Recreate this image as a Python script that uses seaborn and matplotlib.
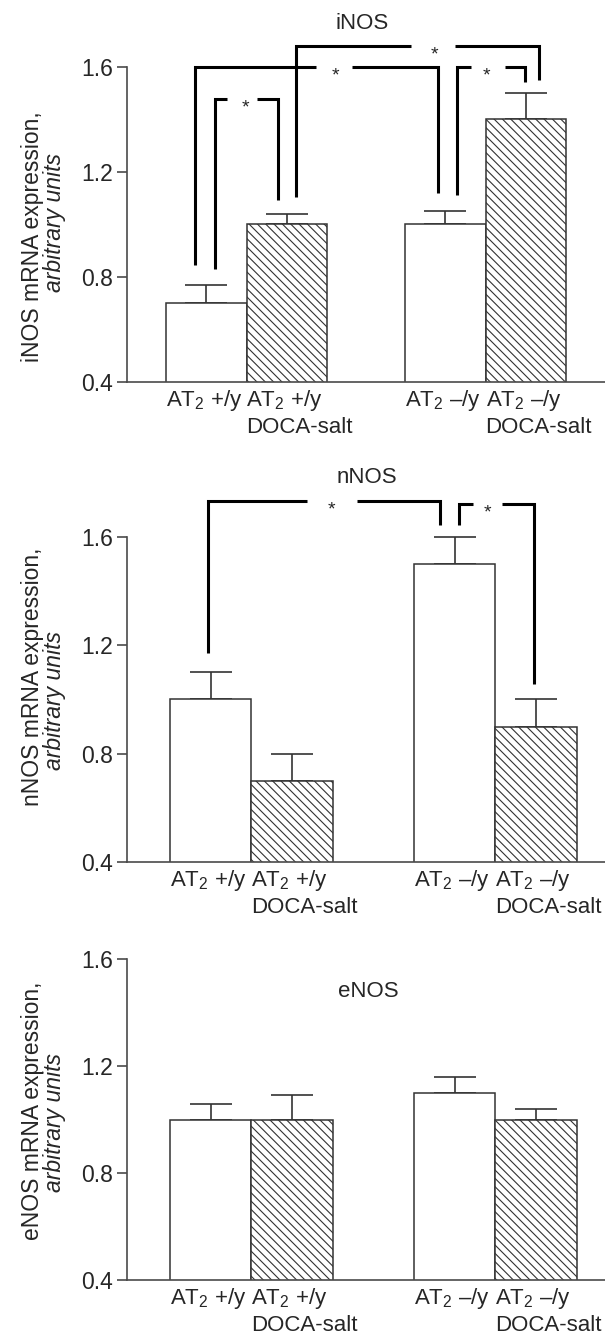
import numpy as np
import pandas as pd
import matplotlib
matplotlib.use("Agg")
import matplotlib.pyplot as plt
import seaborn as sns

# ---- data -------------------------------------------------------------
genotypes = ["AT$_2$ +/y", "AT$_2$ \u2013/y"]
treatments = ["Control", "DOCA-salt"]
bar_labels = ["AT$_2$ +/y", "AT$_2$ +/y", "AT$_2$ \u2013/y", "AT$_2$ \u2013/y"]
bar_sublabels = ["", "DOCA-salt", "", "DOCA-salt"]
y_ticks = [0.4, 0.8, 1.2, 1.6]

# bar order: (+/y, control), (+/y, DOCA), (-/y, control), (-/y, DOCA)
inos_mean = [0.70, 1.00, 1.00, 1.40]
inos_sem = [0.07, 0.04, 0.05, 0.10]
nnos_mean = [1.00, 0.70, 1.50, 0.90]
nnos_sem = [0.10, 0.10, 0.10, 0.10]
enos_mean = [1.00, 1.00, 1.10, 1.00]
enos_sem = [0.06, 0.09, 0.06, 0.04]

# significance brackets: bar a, bar b, bracket level, leg offsets,
# leg end levels, star x, gap around star
inos_brackets = [
    dict(a=0, b=2, y=1.600, da=-0.05, db=-0.03, ea=0.846, eb=1.118, star=0.372, gap=(0.292, 0.440)),
    dict(a=1, b=3, y=1.680, da=0.04, db=0.057, ea=1.103, eb=1.549, star=0.788, gap=(0.690, 0.873)),
    dict(a=0, b=1, y=1.477, da=0.035, db=-0.035, ea=0.830, eb=1.093, star=-0.006, gap=(-0.083, 0.046)),
    dict(a=2, b=3, y=1.600, da=0.05, db=-0.004, ea=1.112, eb=1.543, star=1.002, gap=(0.941, 1.083)),
]
nnos_brackets = [
    dict(a=0, b=2, y=1.732, da=-0.01, db=-0.06, ea=1.172, eb=1.643, star=0.329, gap=(0.229, 0.431)),
    dict(a=2, b=3, y=1.721, da=0.02, db=-0.01, ea=1.643, eb=1.059, star=0.969, gap=(0.906, 1.028)),
]

# ---- style ------------------------------------------------------------
sns.set_style("ticks")
plt.rcParams["font.family"] = ["Liberation Sans", "DejaVu Sans"]
plt.rcParams["mathtext.fontset"] = "custom"
plt.rcParams["mathtext.rm"] = "Liberation Sans"
plt.rcParams["mathtext.it"] = "Liberation Sans:italic"
plt.rcParams["hatch.linewidth"] = 0.8
plt.rcParams["hatch.color"] = "#3a3a3a"

FS = 16
EDGE = "#333333"
SPINE = "#4a4a4a"

W, H = 605, 1338
fig = plt.figure(figsize=(W / 100, H / 100), dpi=100)
fig.patch.set_facecolor("white")


def rect(left_px, top_px, right_px, bottom_px):
    return [left_px / W, 1 - bottom_px / H, (right_px - left_px) / W, (bottom_px - top_px) / H]


def panel(axrect, ylim, xlim, means, sems, title, title_xy, gene, brackets,
          ylab_y, ylab2_y):
    ax = fig.add_axes(axrect)
    df = pd.DataFrame({
        "genotype": [genotypes[0], genotypes[0], genotypes[1], genotypes[1]],
        "treatment": [treatments[0], treatments[1], treatments[0], treatments[1]],
        "value": means,
    })
    sns.barplot(data=df, x="genotype", y="value", hue="treatment",
                order=genotypes, hue_order=treatments,
                palette=["white", "white"], width=0.67, errorbar=None,
                edgecolor=EDGE, linewidth=1.1, legend=False, ax=ax)
    for p in ax.containers[1]:
        p.set_hatch("\\\\\\\\")

    bars = sorted(ax.patches, key=lambda p: p.get_x())
    centers = np.array([p.get_x() + p.get_width() / 2 for p in bars])
    heights = np.array([p.get_height() for p in bars])

    # upper error bars only
    ax.errorbar(centers, heights, yerr=[np.zeros(len(sems)), sems], fmt="none",
                ecolor=EDGE, elinewidth=1.2, capsize=15, capthick=1.2, zorder=0.5)

    ax.set_ylim(*ylim)
    ax.set_xlim(*xlim)
    ax.set_yticks(y_ticks)
    ax.set_yticklabels([f"{t:.1f}" for t in y_ticks], fontsize=FS + 0.5)
    ax.set_xticks([])
    ax.set_xlabel("")
    ax.set_ylabel("")
    for s in ["top", "right"]:
        ax.spines[s].set_visible(False)
    ax.spines["left"].set_bounds(0.4, 1.6)
    for s in ["left", "bottom"]:
        ax.spines[s].set_color(SPINE)
        ax.spines[s].set_linewidth(1.2)
    ax.tick_params(axis="y", direction="out", length=7, width=1.2,
                   color=SPINE, pad=3)
    ax.patch.set_alpha(0)

    # category labels under each bar, left aligned with the bar edge
    for p, lab, sub in zip(bars, bar_labels, bar_sublabels):
        ax.annotate(lab, xy=(p.get_x(), 0), xycoords=("data", "axes fraction"),
                    xytext=(0, -4), textcoords="offset points",
                    ha="left", va="top", fontsize=FS, annotation_clip=False)
        if sub:
            ax.annotate(sub, xy=(p.get_x(), 0), xycoords=("data", "axes fraction"),
                        xytext=(0, -25.5), textcoords="offset points",
                        ha="left", va="top", fontsize=FS, annotation_clip=False)

    ax.text(title_xy[0], title_xy[1], title, ha="center", va="center", fontsize=FS)

    # significance brackets
    for br in brackets:
        xa = centers[br["a"]] + br["da"]
        xb = centers[br["b"]] + br["db"]
        y = br["y"]
        g0, g1 = br["gap"]
        kw = dict(color="black", lw=2.2, solid_joinstyle="miter",
                  solid_capstyle="butt", clip_on=False, zorder=3)
        ax.plot([xa, xa, g0], [br["ea"], y, y], **kw)
        ax.plot([g1, xb, xb], [y, y, br["eb"]], **kw)
        ax.annotate("*", xy=(br["star"], y), xycoords="data",
                    xytext=(0, -9.5), textcoords="offset points",
                    ha="center", va="baseline", fontsize=14)

    # two-line y label, second line italic
    fig.text(33 / W, 1 - ylab_y / H, f"{gene} mRNA expression,", rotation=90,
             ha="center", va="center", fontsize=FS + 0.5)
    fig.text(55 / W, 1 - ylab2_y / H, "arbitrary units", rotation=90,
             ha="center", va="center", fontsize=FS + 0.5, style="italic")
    return ax


panel(rect(127, 0, 605, 382), (0.4, 1.855), (-0.5, 1.5), inos_mean, inos_sem,
      "iNOS", (0.483, 1.764), "iNOS", inos_brackets, 237, 223)
panel(rect(127, 456, 605, 862), (0.4, 1.899), (-0.51, 1.449), nnos_mean, nnos_sem,
      "nNOS", (0.474, 1.818), "nNOS", nnos_brackets, 677, 700)
panel(rect(127, 946, 605, 1280), (0.4, 1.649), (-0.51, 1.449), enos_mean, enos_sem,
      "eNOS", (0.478, 1.477), "eNOS", [], 1111, 1123)

fig.savefig("out.png", dpi=100, facecolor="white")
